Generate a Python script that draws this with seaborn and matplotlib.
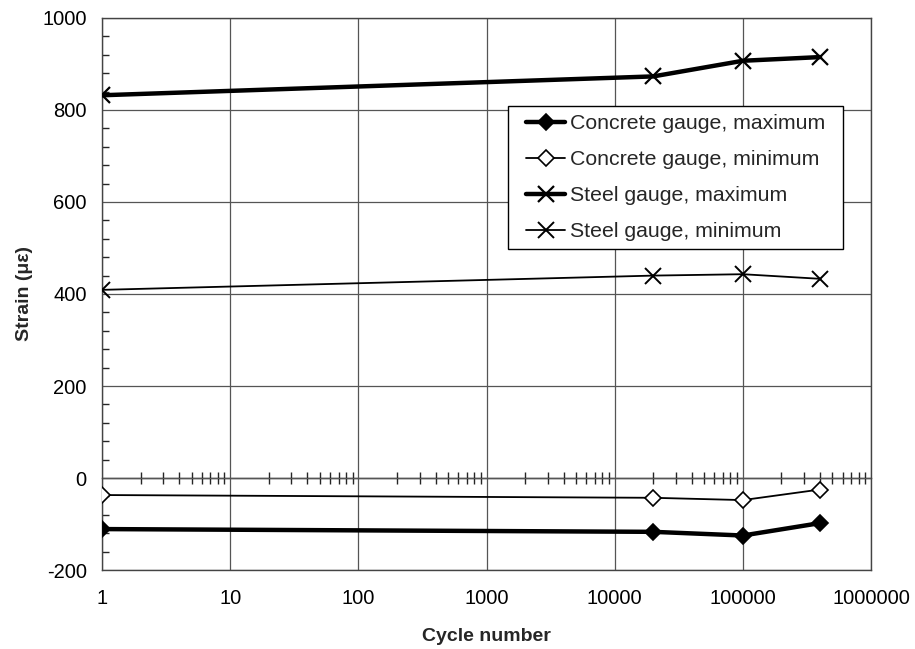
import matplotlib
matplotlib.use("Agg")
import matplotlib.pyplot as plt
import matplotlib.ticker as mticker
from matplotlib.patches import Rectangle
from matplotlib.transforms import IdentityTransform
import numpy as np
import pandas as pd
import seaborn as sns

# Strain readings at selected load cycles
cycles = [1, 20000, 100000, 400000]
concrete_max = [-111, -117, -125, -98]
concrete_min = [-37, -43, -48, -25]
steel_max = [832, 873, 907, 915]
steel_min = [409, 440, 443, 433]

series_names = ["Concrete gauge, maximum", "Concrete gauge, minimum",
                "Steel gauge, maximum", "Steel gauge, minimum"]
series_values = [concrete_max, concrete_min, steel_max, steel_min]

x_ticks = [1, 10, 100, 1000, 10000, 100000, 1000000]
x_tick_labels = ["1", "10", "100", "1000", "10000", "100000", "1000000"]

df = pd.concat(
    [pd.DataFrame({"cycle": cycles, "strain": v, "series": n})
     for n, v in zip(series_names, series_values)],
    ignore_index=True,
)

sns.set_theme(style="white")
plt.rcParams["font.family"] = ["Liberation Sans", "DejaVu Sans"]

fig = plt.figure(figsize=(9.15, 6.49), dpi=100)
ax = fig.add_axes([0.1115, 0.1217, 0.8405, 0.8506])

styles = {
    "Concrete gauge, maximum": dict(marker="D", lw=3.2, ms=8.5, mfc="black", mew=1.2),
    "Concrete gauge, minimum": dict(marker="D", lw=1.3, ms=8.5, mfc="white", mew=1.2),
    "Steel gauge, maximum": dict(marker="x", lw=3.2, ms=12, mfc="black", mew=1.6),
    "Steel gauge, minimum": dict(marker="x", lw=1.3, ms=12, mfc="black", mew=1.4),
}

for name in series_names:
    st = styles[name]
    sns.lineplot(data=df[df["series"] == name], x="cycle", y="strain", ax=ax,
                 color="black", linewidth=st["lw"], marker=st["marker"],
                 markersize=st["ms"], markerfacecolor=st["mfc"],
                 markeredgecolor="black", markeredgewidth=st["mew"],
                 label=name, zorder=3)

ax.set_xscale("log")
ax.set_xlim(1, 1e6)
ax.set_ylim(-200, 1000)
ax.set_xticks(x_ticks)
ax.set_xticklabels(x_tick_labels)
ax.xaxis.set_minor_locator(mticker.NullLocator())
ax.yaxis.set_major_locator(mticker.MultipleLocator(200))
ax.yaxis.set_minor_locator(mticker.MultipleLocator(40))
ax.yaxis.set_major_formatter(mticker.FuncFormatter(lambda v, p: f"{int(v)}"))

ax.grid(True, which="major", color="#555555", linewidth=0.9)
for sp in ax.spines.values():
    sp.set_color("#444444")
    sp.set_linewidth(1.0)

ax.tick_params(axis="x", which="major", length=0, pad=14, labelsize=14.5, colors="black")
ax.tick_params(axis="y", which="major", direction="out", length=6, width=1, pad=5,
               labelsize=14.5, colors="black")
ax.tick_params(axis="y", which="minor", direction="in", length=5, width=1, left=True)

# Horizontal axis at zero strain carrying the in-between tick marks
zero_axis = ax.secondary_xaxis(200 / 1200)
zero_axis.set_xscale("log")
zero_axis.xaxis.set_major_locator(mticker.FixedLocator(x_ticks))
zero_axis.xaxis.set_minor_locator(mticker.LogLocator(base=10, subs=np.arange(2, 10), numticks=10))
zero_axis.xaxis.set_major_formatter(mticker.NullFormatter())
zero_axis.xaxis.set_minor_formatter(mticker.NullFormatter())
zero_axis.tick_params(which="both", direction="inout", length=9, width=1,
                      labelbottom=False, labeltop=False)
zero_axis.tick_params(which="major", length=0)
zero_axis.spines["bottom"].set_color("black")
zero_axis.spines["bottom"].set_linewidth(1.0)

ax.set_xlabel("Cycle number", fontsize=14, fontweight="bold", labelpad=14)
ax.set_ylabel("Strain (\u03bc\u03b5)", fontsize=14, fontweight="bold", labelpad=7)

leg = ax.legend(loc="upper left", bbox_to_anchor=(0.5514, 0.826), fontsize=15.3,
                frameon=False, handlelength=1.85, handletextpad=0.22,
                labelspacing=0.8, borderpad=0, borderaxespad=0)
leg.set_zorder(5)

# Legend box: wider padding at the sides than at top and bottom
fig.canvas.draw()
bb = leg.get_window_extent()
pad_x, pad_y = 18, 8
frame = Rectangle((bb.x0 - pad_x, bb.y0 - pad_y), bb.width + 2 * pad_x,
                  bb.height + 2 * pad_y, transform=IdentityTransform(),
                  facecolor="white", edgecolor="black", linewidth=1.0,
                  clip_on=False, zorder=4.9)
ax.add_patch(frame)

fig.savefig("out.png", dpi=100)
